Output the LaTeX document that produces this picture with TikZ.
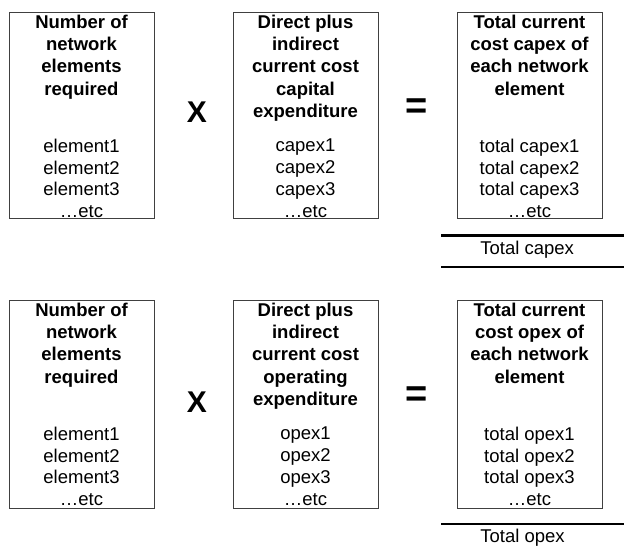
\documentclass[tikz,border=0pt]{standalone}
\usepackage{fontspec}
\setmainfont{Liberation Sans}
\usetikzlibrary{positioning}

\begin{document}
\begin{tikzpicture}[x = 1pt, y = -1pt, thick]
\tikzstyle{box} = [shape = rectangle, draw = black!75, line width = 0.9pt, minimum width = 145pt, inner sep = 0pt]
\tikzstyle{head} = [align = center, inner sep = 0pt, font = \fontsize{18.5}{22.3}\selectfont\bfseries]
\tikzstyle{items} = [align = center, inner sep = 0pt, font = \fontsize{18.5}{21.8}\selectfont]
\tikzstyle{op} = [inner sep = 0pt, font = \fontsize{30}{30}\selectfont\bfseries]
\tikzstyle{rule} = [line width = 2.5pt]
\useasboundingbox (0, 0) rectangle (624, 552);
% capex row
\node[box, minimum height = 206pt] (C-1) at (81.5, 115) {};
\node[box, minimum height = 206pt] (C-2) at (305.5, 115) {};
\node[box, minimum height = 206pt] (C-3) at (529.5, 115) {};
\node[head, below = 3pt of C-1.north] (C-1-h) {Number of\\network\\elements\\required};
\node[head, below = 3pt of C-2.north] (C-2-h) {Direct plus\\indirect\\current cost\\capital\\expenditure};
\node[head, below = 3pt of C-3.north] (C-3-h) {Total current\\cost capex of\\each network\\element};
\node[items, below = 127pt of C-1.north] (C-1-i) {element1\\element2\\element3\\…etc};
\node[items, below = 127pt of C-2.north] (C-2-i) {capex1\\capex2\\capex3\\…etc};
\node[items, below = 127pt of C-3.north] (C-3-i) {total capex1\\total capex2\\total capex3\\…etc};
\node[op] (C-x) at (197, 112) {X};
\node[op, font = \fontsize{38}{38}\selectfont\bfseries] (C-eq) at (417, 108.5) {=};
\coordinate (C-a) at (441, 235.7);
\coordinate (C-b) at (624, 235.7);
\coordinate (C-c) at (441, 267);
\coordinate (C-d) at (624, 267);
\draw[rule] (C-a) -- (C-b);
\draw[rule] (C-c) -- (C-d);
\node[items, anchor = west] (C-tot) at (480, 250) {Total capex};
% opex row
\node[box, minimum height = 208pt] (O-1) at (81.5, 404) {};
\node[box, minimum height = 208pt] (O-2) at (305.5, 404) {};
\node[box, minimum height = 208pt] (O-3) at (529.5, 404) {};
\node[head, below = 3pt of O-1.north] (O-1-h) {Number of\\network\\elements\\required};
\node[head, below = 3pt of O-2.north] (O-2-h) {Direct plus\\indirect\\current cost\\operating\\expenditure};
\node[head, below = 3pt of O-3.north] (O-3-h) {Total current\\cost opex of\\each network\\element};
\node[items, below = 127pt of O-1.north] (O-1-i) {element1\\element2\\element3\\…etc};
\node[items, below = 127pt of O-2.north] (O-2-i) {opex1\\opex2\\opex3\\…etc};
\node[items, below = 127pt of O-3.north] (O-3-i) {total opex1\\total opex2\\total opex3\\…etc};
\node[op] (O-x) at (197, 402) {X};
\node[op, font = \fontsize{38}{38}\selectfont\bfseries] (O-eq) at (417, 397) {=};
\coordinate (O-a) at (441, 524);
\coordinate (O-b) at (624, 524);
\draw[rule] (O-a) -- (O-b);
\node[items, anchor = west] (O-tot) at (480, 538) {Total opex};
\end{tikzpicture}
\end{document}
